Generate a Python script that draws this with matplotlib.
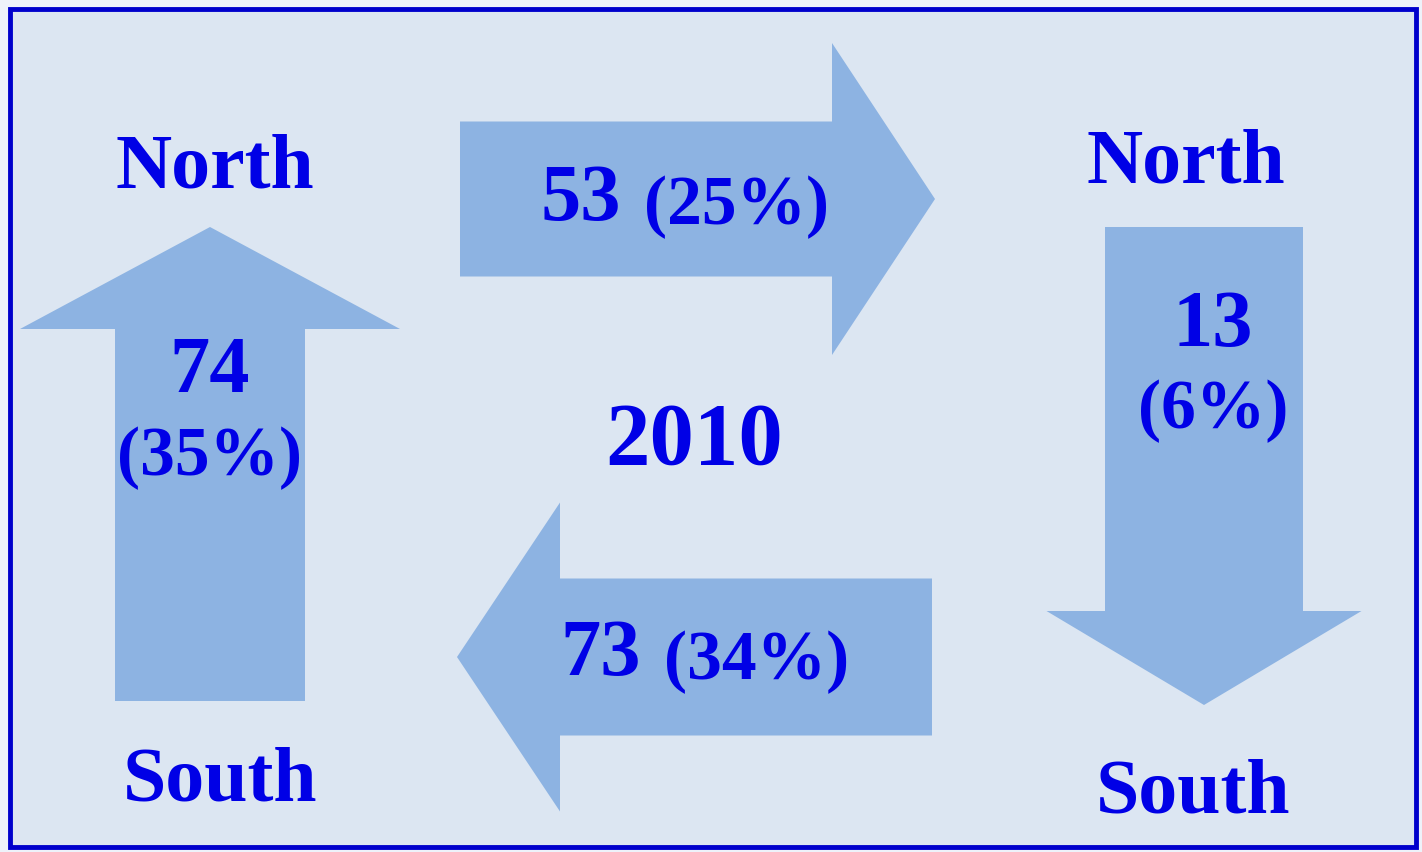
import matplotlib.pyplot as plt
from matplotlib.patches import FancyArrow, Rectangle

# flows between regions, 2010
year = '2010'
flow_names = ['North to North', 'North to South', 'South to South', 'South to North']
flow_counts = [53, 13, 73, 74]
flow_shares = [25, 6, 34, 35]
region_labels = ['North', 'South']

bg = '#dce6f2'
arrow_col = '#8db3e2'
txt_col = '#0000e6'
font = 'Liberation Serif'

fig = plt.figure(figsize=(14.22, 8.53), dpi=100)
fig.patch.set_facecolor('#eef2fa')
ax = fig.add_axes([0, 0, 1, 1])
ax.set_xlim(0, 1422)
ax.set_ylim(853, 0)
ax.axis('off')

ax.add_patch(Rectangle((10, 10), 1406, 838, facecolor=bg, edgecolor='#0000cc', lw=3.5, zorder=0))

# arrows: top (N->N), right (N->S), bottom (S->S), left (S->N)
arrows = [
    dict(x=460, y=200, dx=475, dy=0, width=155, head_width=312, head_length=103),
    dict(x=1204, y=228, dx=0, dy=478, width=198, head_width=315, head_length=94),
    dict(x=932, y=658, dx=-475, dy=0, width=157, head_width=309, head_length=103),
    dict(x=210, y=702, dx=0, dy=-474, width=190, head_width=380, head_length=102),
]
for a in arrows:
    ax.add_patch(FancyArrow(a['x'], a['y'], a['dx'], a['dy'], width=a['width'],
                            head_width=a['head_width'], head_length=a['head_length'],
                            length_includes_head=True, color=arrow_col, lw=0, zorder=1))

big = dict(fontfamily=font, fontweight='bold', color=txt_col, zorder=3,
           va='center')

# region names
ax.text(215, 169, region_labels[0], fontsize=56, ha='center', **big)
ax.text(1186, 164, region_labels[0], fontsize=56, ha='center', **big)
ax.text(220, 782, region_labels[1], fontsize=56, ha='center', **big)
ax.text(1193, 794, region_labels[1], fontsize=56, ha='center', **big)

ax.text(694, 442, year, fontsize=64, ha='center', **big)

# horizontal arrows: count and share on one line
ax.text(621, 200, str(flow_counts[0]), fontsize=58, ha='right', **big)
ax.text(644, 207, '(%d%%)' % flow_shares[0], fontsize=50, ha='left', **big)
ax.text(641, 655, str(flow_counts[2]), fontsize=58, ha='right', **big)
ax.text(664, 662, '(%d%%)' % flow_shares[2], fontsize=50, ha='left', **big)

# vertical arrows: count above share
ax.text(1213, 326, str(flow_counts[1]), fontsize=58, ha='center', **big)
ax.text(1213, 411, '(%d%%)' % flow_shares[1], fontsize=50, ha='center', **big)
ax.text(210, 372, str(flow_counts[3]), fontsize=58, ha='center', **big)
ax.text(210, 458, '(%d%%)' % flow_shares[3], fontsize=50, ha='center', **big)

fig.savefig('out.png', dpi=100, facecolor=fig.get_facecolor())
